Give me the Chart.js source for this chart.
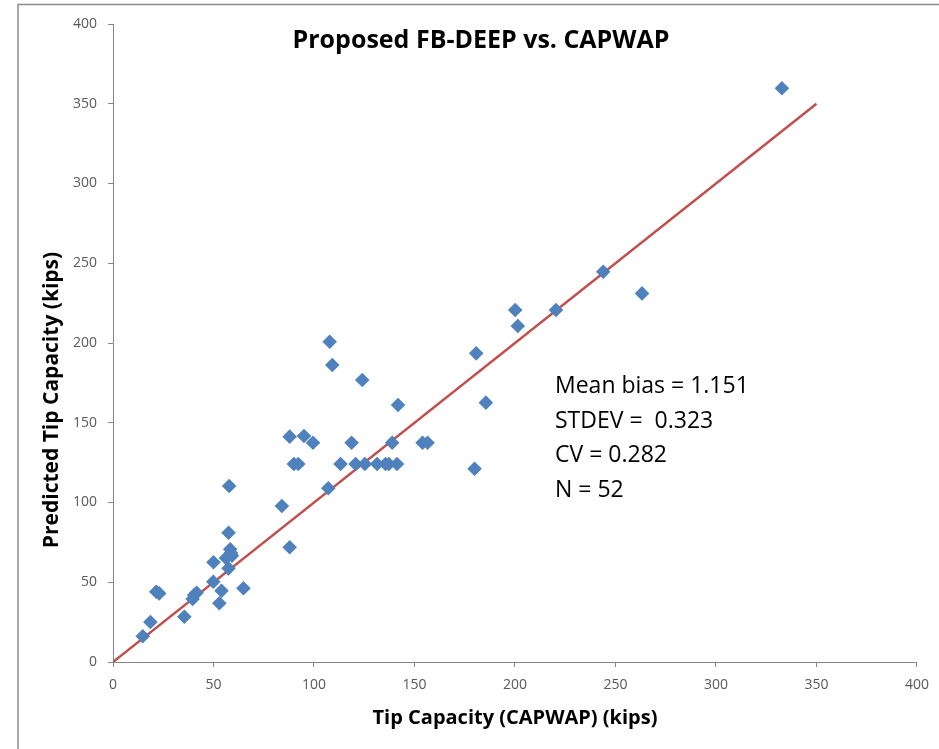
<!DOCTYPE html>
<html>
<head>
<meta charset="utf-8">
<script src="https://cdn.jsdelivr.net/npm/chart.js@4"></script>
<style>
  html, body { margin: 0; padding: 0; background: #fff; }
  #wrap { width: 939px; height: 749px; position: relative; }
</style>
</head>
<body>
<div id="wrap"><canvas id="chart" width="939" height="749"></canvas></div>
<script>
// values (kips)
const capwapTip = [
  57.5, 58.3, 58.7, 56.2, 59.2, 50.0, 57.5, 49.9, 54.0, 64.9,
  21.5, 23.0, 40.4, 41.6, 39.6, 52.9, 35.5, 18.6, 14.8, 57.8,
  107.8, 109.1, 124.0, 141.8, 87.9, 95.0, 99.5, 118.7, 138.9, 154.0,
  156.5, 90.0, 92.2, 113.2, 120.7, 125.3, 131.4, 135.6, 137.2, 141.3,
  107.1, 84.0, 87.9,
  243.9, 263.2, 200.1, 220.4, 201.4, 180.7, 185.5, 179.9, 332.8
];
const predictedTip = [
  81.0, 70.7, 68.3, 65.2, 66.6, 62.5, 58.7, 50.3, 44.7, 46.2,
  44.0, 43.0, 42.0, 43.4, 39.5, 36.8, 28.4, 25.1, 16.1, 110.3,
  200.8, 186.2, 176.8, 161.1, 141.3, 141.7, 137.5, 137.5, 137.5, 137.5,
  137.5, 124.1, 124.1, 124.1, 124.1, 124.1, 124.1, 124.1, 124.1, 124.1,
  108.9, 97.8, 71.9,
  244.7, 231.1, 220.7, 220.7, 210.7, 193.5, 162.6, 121.2, 359.7
];
const lineX = [0, 350];
const lineY = [0, 350];
const statLines = ["Mean bias = 1.151", "STDEV =  0.323", "CV = 0.282", "N = 52"];
const chartTitle = "Proposed FB-DEEP vs. CAPWAP";
const xTitle = "Tip Capacity (CAPWAP) (kips)";
const yTitle = "Predicted Tip Capacity (kips)";

const FONT = "'Open Sans', 'DejaVu Sans', sans-serif";
const AXIS_GRAY = "#868686";

// frame, title, y-axis title and stats box
const extras = {
  id: "extras",
  beforeDraw(chart) {
    const ctx = chart.ctx;
    ctx.save();
    ctx.fillStyle = "#fff";
    ctx.fillRect(0, 0, chart.width, chart.height);
    ctx.strokeStyle = "#8c8c8c";
    ctx.lineWidth = 1.5;
    ctx.beginPath();
    ctx.moveTo(18, chart.height + 2);
    ctx.lineTo(18, 4.5);
    ctx.lineTo(chart.width + 2, 4.5);
    ctx.stroke();
    ctx.restore();
  },
  afterDraw(chart) {
    const ctx = chart.ctx;
    ctx.save();
    ctx.fillStyle = "#000";
    ctx.textAlign = "center";
    ctx.textBaseline = "alphabetic";
    ctx.font = "bold 25px " + FONT;
    ctx.fillText(chartTitle, 481, 48);

    ctx.translate(52, 400);
    ctx.rotate(-Math.PI / 2);
    ctx.textBaseline = "middle";
    ctx.font = "bold 21px " + FONT;
    ctx.fillText(yTitle, 0, 0);
    ctx.restore();

    ctx.save();
    ctx.fillStyle = "#000";
    ctx.textAlign = "left";
    ctx.textBaseline = "alphabetic";
    ctx.font = "23px " + FONT;
    const y0 = 393.3;
    statLines.forEach((s, i) => ctx.fillText(s, 555, y0 + i * 34.5));
    ctx.restore();
  }
};

const ctx = document.getElementById("chart").getContext("2d");
new Chart(ctx, {
  type: "scatter",
  data: {
    datasets: [
      {
        label: "FB-DEEP",
        data: capwapTip.map((x, i) => ({ x: x, y: predictedTip[i] })),
        pointStyle: "rectRot",
        pointRadius: 7.3,
        pointHoverRadius: 7.3,
        backgroundColor: "#4f81bd",
        borderColor: "#4f81bd",
        borderWidth: 0,
        order: 1
      },
      {
        label: "1:1",
        type: "line",
        data: lineX.map((x, i) => ({ x: x, y: lineY[i] })),
        borderColor: "#c0504d",
        borderWidth: 2.5,
        pointRadius: 0,
        fill: false,
        order: 2
      }
    ]
  },
  options: {
    responsive: false,
    animation: false,
    layout: { padding: { top: 24, right: 19, left: 0, bottom: 0 } },
    plugins: {
      legend: { display: false },
      tooltip: { enabled: false }
    },
    scales: {
      x: {
        type: "linear",
        min: 0,
        max: 400,
        afterFit: (s) => { s.height = 87; },
        ticks: { stepSize: 50, color: "#595959", font: { family: FONT, size: 14 }, padding: 10 },
        grid: { drawOnChartArea: false, drawTicks: true, tickLength: 5, color: AXIS_GRAY },
        border: { display: true, color: AXIS_GRAY, width: 1 },
        title: {
          display: true,
          text: xTitle,
          color: "#000",
          font: { family: FONT, size: 20, weight: "bold" },
          padding: { top: 0, bottom: 19 }
        }
      },
      y: {
        type: "linear",
        min: 0,
        max: 400,
        afterFit: (s) => { s.width = 113; },
        ticks: { stepSize: 50, color: "#595959", font: { family: FONT, size: 14 }, padding: 11 },
        grid: { drawOnChartArea: false, drawTicks: true, tickLength: 5, color: AXIS_GRAY },
        border: { display: true, color: AXIS_GRAY, width: 1 }
      }
    }
  },
  plugins: [extras]
});
</script>
</body>
</html>
